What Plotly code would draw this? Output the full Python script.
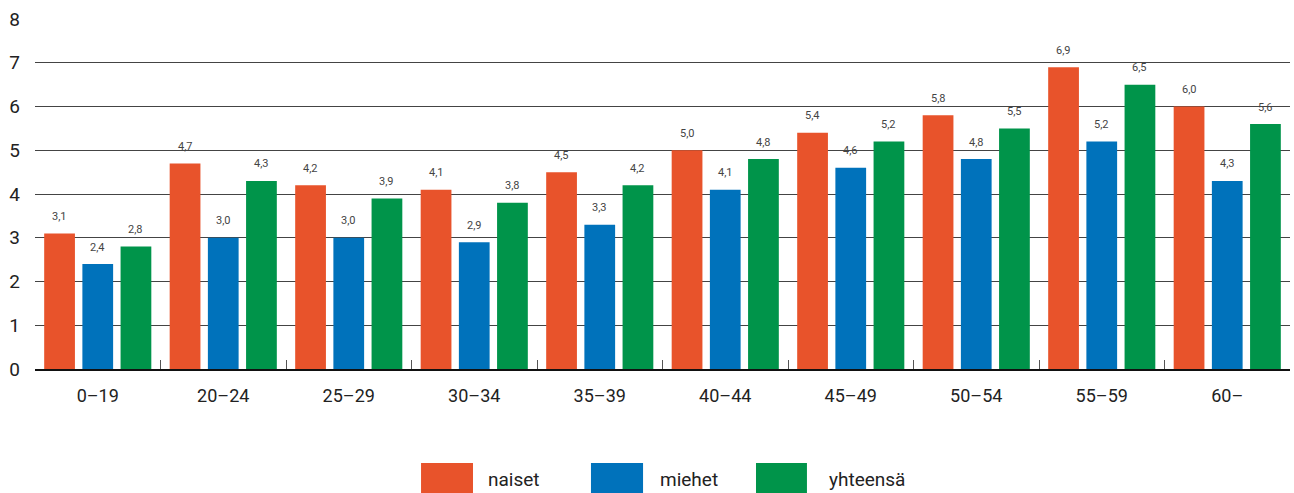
import plotly.graph_objects as go

# Age groups and rates per group
categories = ["0\u201319", "20\u201324", "25\u201329", "30\u201334", "35\u201339",
              "40\u201344", "45\u201349", "50\u201354", "55\u201359", "60\u2013"]
naiset = [3.1, 4.7, 4.2, 4.1, 4.5, 5.0, 5.4, 5.8, 6.9, 6.0]
miehet = [2.4, 3.0, 3.0, 2.9, 3.3, 4.1, 4.6, 4.8, 5.2, 4.3]
yhteensa = [2.8, 4.3, 3.9, 3.8, 4.2, 4.8, 5.2, 5.5, 6.5, 5.6]
y_ticks = [0, 1, 2, 3, 4, 5, 6, 7, 8]

series = [
    ("naiset", naiset, "#E8532B"),
    ("miehet", miehet, "#0072BB"),
    ("yhteensä", yhteensa, "#00944A"),
]

COND = "Roboto, Liberation Sans Narrow, DejaVu Sans Condensed, sans-serif"
PLAIN = "Roboto, Noto Sans, sans-serif"

fig = go.Figure()
for name, vals, color in series:
    fig.add_trace(go.Bar(
        x=categories, y=vals, name=name,
        marker=dict(color=color, line=dict(width=0)),
        showlegend=False,
    ))

# Value labels above each bar (Finnish decimal comma)
slot = 38.2
for i, (name, vals, color) in enumerate(series):
    for c, v in zip(categories, vals):
        fig.add_annotation(
            x=c, y=v, text=f"{v:.1f}".replace(".", ","),
            showarrow=False, xshift=(i - 1) * slot, yshift=17,
            font=dict(family=COND, size=11, color="#444444"),
        )

# Custom legend with large swatches below the plot
legend_items = [(0.3076, 0.3490, 0.3594),
                (0.4430, 0.4845, 0.4964),
                (0.5745, 0.6151, 0.6311)]
for (name, vals, color), (x0, x1, xt) in zip(series, legend_items):
    fig.add_shape(type="rect", xref="paper", yref="paper",
                  x0=x0, x1=x1, y0=-0.354, y1=-0.2686,
                  fillcolor=color, line=dict(width=0))
    fig.add_annotation(xref="paper", yref="paper", x=xt, y=-0.315,
                       xanchor="left", yanchor="middle", text=name,
                       showarrow=False,
                       font=dict(family=PLAIN, size=19, color="#222222"))

fig.update_layout(
    width=1294, height=493,
    margin=dict(l=35, r=4, t=19, b=124),
    paper_bgcolor="white", plot_bgcolor="white",
    barmode="group", bargap=0.087, bargroupgap=0.195,
    xaxis=dict(
        showline=True, linecolor="#111111", linewidth=1.5,
        ticks="inside", tickson="boundaries", ticklen=9,
        tickcolor="#555555", tickwidth=1.2,
        ticklabelstandoff=10,
        tickfont=dict(family=COND, size=18, color="#222222"),
        showgrid=False, fixedrange=True,
    ),
    yaxis=dict(
        range=[0, 8], tickvals=y_ticks,
        showgrid=True, gridcolor="#444444", gridwidth=1.2,
        zeroline=False, showline=False, ticks="",
        ticklabelstandoff=14,
        tickfont=dict(family=COND, size=19, color="#222222"),
        fixedrange=True,
    ),
)

fig.write_html("out.html")
